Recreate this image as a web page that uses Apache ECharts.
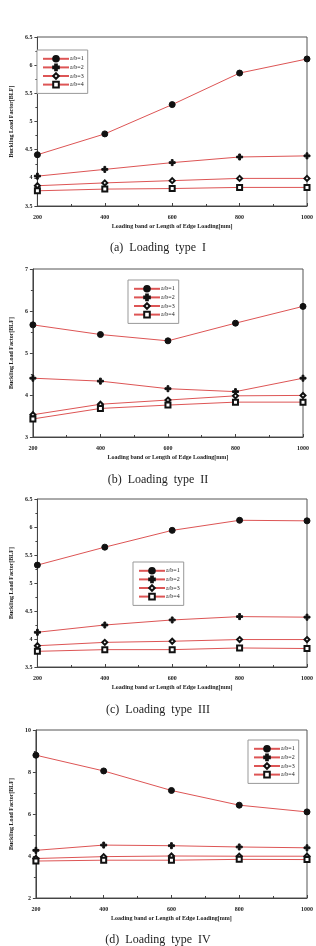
<!DOCTYPE html>
<html>
<head>
<meta charset="utf-8">
<script src="https://cdn.jsdelivr.net/npm/echarts@6/dist/echarts.min.js"></script>
<style>
html, body { margin: 0; padding: 0; background: #fff; }
#container { width: 316px; height: 946px; }
</style>
</head>
<body>
<div id="container"></div>
<script>
// x positions: loading band / length of edge loading [mm]
var loadLength = [200, 400, 600, 800, 1000];
var ratioNames = ['a/b=1', 'a/b=2', 'a/b=3', 'a/b=4'];
var captions = ['(a)  Loading  type  I', '(b)  Loading  type  II', '(c)  Loading  type  III', '(d)  Loading  type  IV'];

// BLF values, one row per a/b ratio
var typeI = [
	[4.41, 4.78, 5.30, 5.86, 6.11],
	[4.03, 4.15, 4.27, 4.37, 4.39],
	[3.86, 3.91, 3.95, 3.99, 3.99],
	[3.77, 3.80, 3.81, 3.83, 3.83]
];
var typeII = [
	[5.67, 5.44, 5.29, 5.71, 6.11],
	[4.40, 4.33, 4.15, 4.08, 4.40],
	[3.53, 3.78, 3.88, 3.98, 3.99],
	[3.43, 3.68, 3.76, 3.83, 3.83]
];
var typeIII = [
	[5.32, 5.64, 5.94, 6.12, 6.11],
	[4.12, 4.25, 4.34, 4.40, 4.39],
	[3.88, 3.94, 3.96, 3.99, 3.99],
	[3.78, 3.81, 3.81, 3.84, 3.83]
];
var typeIV = [
	[8.80, 8.05, 7.12, 6.42, 6.10],
	[4.27, 4.52, 4.49, 4.43, 4.39],
	[3.88, 3.97, 4.00, 3.99, 3.99],
	[3.76, 3.80, 3.80, 3.84, 3.83]
];
var yMin = [3.5, 3, 3.5, 2];
var yMax = [6.5, 7, 6.5, 10];
var yStep = [0.5, 1, 0.5, 2];

var allData = [typeI, typeII, typeIII, typeIV];

var grids = [
	{ left: 29, right: 7, top: 37, height: 169 },
	{ left: 25, right: 13, top: 269, height: 168 },
	{ left: 29, right: 7, top: 499, height: 168 },
	{ left: 27, right: 3, top: 730, height: 168 }
];
var legendPos = [
	{ left: 37, top: 50 },
	{ left: 128, top: 280 },
	{ left: 133, top: 562 },
	{ left: 248, top: 740 }
];
var captionTop = [237, 469, 699, 929];

var plusPath = 'path://M3.5,0L6.5,0L6.5,3.5L10,3.5L10,6.5L6.5,6.5L6.5,10L3.5,10L3.5,6.5L0,6.5L0,3.5L3.5,3.5Z';
var symbols = ['circle', plusPath, 'emptyDiamond', 'emptyRect'];
var symSizes = [6, 6, 5, 5];

var dom = document.getElementById('container');
var myChart = echarts.init(dom);

var font = 'Liberation Serif, DejaVu Serif, serif';
var xAxes = [], yAxes = [], series = [], legends = [], titles = [];

for (var g = 0; g < 4; g++) {
	xAxes.push({
		gridIndex: g,
		type: 'value',
		min: 200, max: 1000, interval: 200,
		name: 'Loading band or Length of Edge Loading[mm]',
		nameLocation: 'middle',
		nameGap: 17,
		nameTextStyle: { fontFamily: font, fontWeight: 'bold', fontSize: 6, color: '#222' },
		axisLine: { lineStyle: { color: '#444', width: 1 } },
		axisTick: { inside: true, length: 3, lineStyle: { color: '#444' } },
		minorTick: { show: true, splitNumber: 2, length: 2, lineStyle: { color: '#444' } },
		axisLabel: {
			fontFamily: font, fontWeight: 'bold', fontSize: 6, color: '#222', margin: 8,
			formatter: function (v) { return String(v); }
		},
		splitLine: { show: false }
	});
	yAxes.push({
		gridIndex: g,
		type: 'value',
		min: yMin[g], max: yMax[g], interval: yStep[g],
		name: 'Buckling Load Factor[BLF]',
		nameLocation: 'middle',
		nameGap: g === 3 ? 16 : 18,
		nameTextStyle: { fontFamily: font, fontWeight: 'bold', fontSize: 6, color: '#222' },
		axisLine: { lineStyle: { color: '#444', width: 1 } },
		axisTick: { inside: false, length: 3, lineStyle: { color: '#444' } },
		minorTick: { show: true, splitNumber: 2, length: 2, lineStyle: { color: '#444' } },
		axisLabel: { fontFamily: font, fontWeight: 'bold', fontSize: 6, color: '#222', margin: 5 },
		splitLine: { show: false }
	});
	for (var s = 0; s < 4; s++) {
		var pts = [];
		for (var i = 0; i < loadLength.length; i++) pts.push([loadLength[i], allData[g][s][i]]);
		series.push({
			name: ratioNames[s],
			type: 'line',
			xAxisIndex: g,
			yAxisIndex: g,
			data: pts,
			symbol: symbols[s],
			symbolSize: symSizes[s],
			showAllSymbol: true,
			lineStyle: { color: '#dd5555', width: 1 },
			itemStyle: { color: '#111', borderColor: '#111', borderWidth: 1 },
			emphasis: { disabled: true },
			animation: false
		});
	}
	legends.push({
		left: legendPos[g].left,
		top: legendPos[g].top,
		orient: 'vertical',
		data: ratioNames,
		itemWidth: 26,
		itemHeight: 7,
		itemGap: 1,
		padding: [5, 4, 5, 5],
		borderColor: '#999',
		borderWidth: 1,
		backgroundColor: '#fff',
		selectedMode: false,
		textStyle: { fontFamily: font, fontSize: 6, color: '#222', padding: [0, 0, 0, -4] }
	});
	titles.push({
		text: captions[g],
		left: 'center',
		top: captionTop[g],
		textStyle: { fontFamily: font, fontWeight: 'normal', fontSize: 12, color: '#222' }
	});
}

var option = {
	backgroundColor: '#fff',
	animation: false,
	title: titles,
	legend: legends,
	grid: grids.map(function (gr) {
		return Object.assign({ show: true, borderColor: '#555', borderWidth: 1, backgroundColor: 'transparent' }, gr);
	}),
	xAxis: xAxes,
	yAxis: yAxes,
	series: series
};

if (option && typeof option === 'object') {
	myChart.setOption(option, true);
}
</script>
</body>
</html>
